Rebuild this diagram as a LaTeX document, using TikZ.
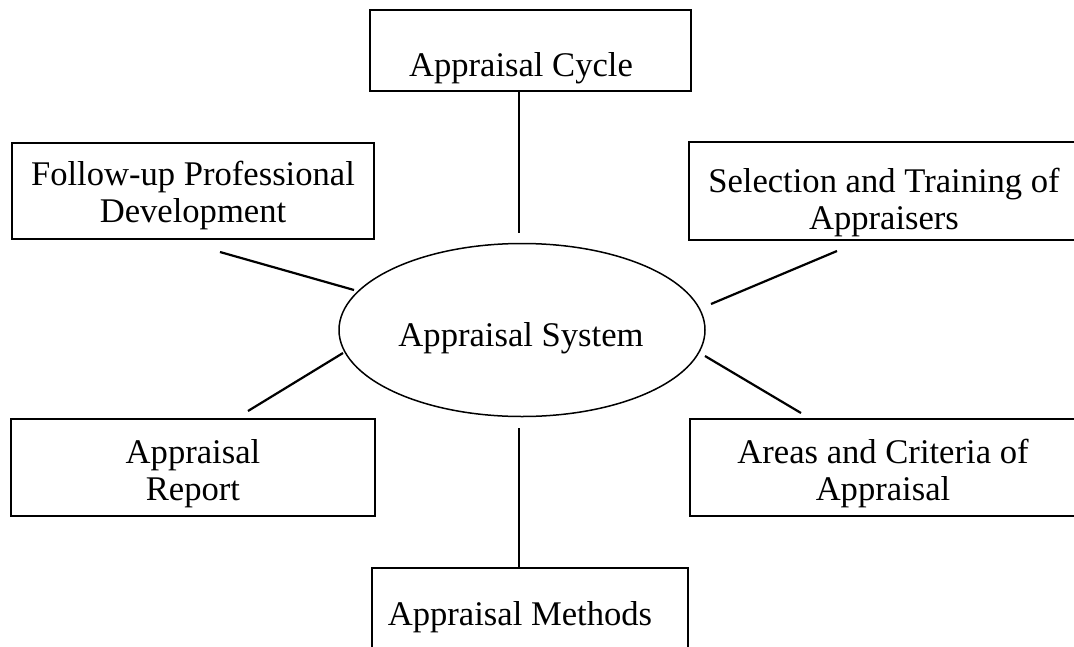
\documentclass[tikz,border=0pt]{standalone}
\usepackage{fontspec}
\setmainfont{Liberation Serif}
\usetikzlibrary{shapes.geometric}
\tikzset{
  box/.style={draw, line width=2pt, rectangle, inner sep=0pt},
  txt/.style={anchor=north, align=center, inner sep=0pt, font=\fontsize{34.6}{37.5}\selectfont},
  link/.style={line width=2.2pt},
  sysshape/.style={draw, ellipse, line width=1.5pt, inner sep=0pt, minimum width=366pt, minimum height=173pt}
}
\begin{document}
\begin{tikzpicture}[x=1pt, y=-1pt]
\useasboundingbox (0,0) rectangle (1074,646);
\clip (0,0) rectangle (1074,646);
% boxes
\node[box, minimum width=321pt, minimum height=81pt] (cycle) at (530.5,50.5) {};
\node[box, minimum width=362pt, minimum height=96pt] (follow) at (193,191) {};
\node[box, minimum width=391pt, minimum height=98pt] (select) at (884.5,191) {};
\node[box, minimum width=364pt, minimum height=97pt] (report) at (193,467.5) {};
\node[box, minimum width=388pt, minimum height=97pt] (areas) at (884,467.5) {};
\node[box, minimum width=316pt, minimum height=92pt] (methods) at (530,614) {};
\node[sysshape] (sys) at (522,330) {};
% texts
\node[txt] (cycleT) at (521,49.7) {\strut Appraisal Cycle};
\node[txt] (followT) at (193,158.7) {\strut Follow-up Professional\\\strut Development};
\node[txt] (selectT) at (884,165.7) {\strut Selection and Training of\\\strut Appraisers};
\node[txt] (reportT) at (193,436.7) {\strut Appraisal\\\strut Report};
\node[txt] (areasT) at (883,436.7) {\strut Areas and Criteria of\\\strut Appraisal};
\node[txt] (methodsT) at (520,598.7) {\strut Appraisal Methods};
\node[txt] (sysT) at (521,319.7) {\strut Appraisal System};
% connector ends
\coordinate (c1a) at (519,92);   \coordinate (c1b) at (519,233);
\coordinate (c2a) at (220,252);  \coordinate (c2b) at (354,290);
\coordinate (c3a) at (837,251);  \coordinate (c3b) at (711,304);
\coordinate (c4a) at (248,411);  \coordinate (c4b) at (343,353);
\coordinate (c5a) at (801,413);  \coordinate (c5b) at (705,356);
\coordinate (c6a) at (519,568);  \coordinate (c6b) at (519,428);
\draw[link] (c1a) -- (c1b);
\draw[link] (c2a) -- (c2b);
\draw[link] (c3a) -- (c3b);
\draw[link] (c4a) -- (c4b);
\draw[link] (c5a) -- (c5b);
\draw[link] (c6a) -- (c6b);
\end{tikzpicture}
\end{document}
